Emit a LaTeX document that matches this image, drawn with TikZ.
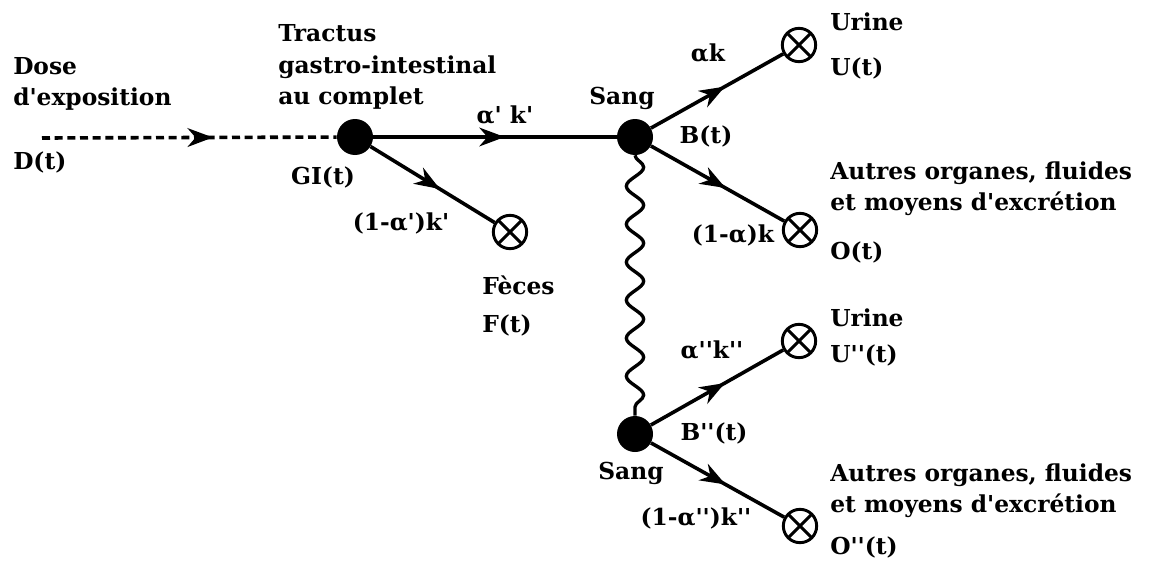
\documentclass[tikz,border=0pt]{standalone}
\usepackage{fontspec}
\setmainfont{DejaVu Serif}[Ligatures=TeXOff]
\usetikzlibrary{arrows.meta,decorations.markings,decorations.pathmorphing}
\tikzset{
  dot/.style={circle,fill=black,inner sep=0pt,minimum size=27pt},
  sink/.style={circle,draw,line width=2.2pt,inner sep=0pt,minimum size=25pt,
    path picture={\draw[line width=2.2pt] (path picture bounding box.north west)--(path picture bounding box.south east)
      (path picture bounding box.north east)--(path picture bounding box.south west);}},
  lbl/.style={font=\bfseries\fontsize{17.5}{23.5}\selectfont,align=left,inner sep=0pt},
  flow/.style={line width=2.7pt,postaction={decorate},
    decoration={markings,mark=at position #1 with {\arrow{Stealth[length=19pt,width=14pt,inset=6pt]}}}},
  flow/.default=0.56,
  dashflow/.style={flow=#1,dash pattern=on 6pt off 3.5pt},
  dashflow/.default=0.58,
  wavy/.style={line width=2.5pt,decorate,decoration={snake,segment length=28.5pt,amplitude=6.5pt}}
}
\begin{document}
\begin{tikzpicture}[x=0.75pt,y=-0.75pt]
  \useasboundingbox (0,0) rectangle (1161,564);
  % compartments and sinks
  \node[dot] (gi) at (355,137) {};
  \node[dot] (sang) at (635,137) {};
  \node[dot] (sangb) at (635,434) {};
  \node[sink] (feces) at (510,232) {};
  \node[sink] (urine) at (799,45) {};
  \node[sink] (autres) at (800,230) {};
  \node[sink] (urineb) at (799,341) {};
  \node[sink] (autresb) at (800,526) {};
  \coordinate (dose) at (42,138);
  % labels
  \node[lbl,anchor=west] (ldose) at (13,84) {Dose\\d'exposition};
  \node[lbl,anchor=west] (ld) at (13,162) {D(t)};
  \node[lbl,anchor=west] (lgi) at (278,67) {Tractus\\gastro-intestinal\\au complet};
  \node[lbl] (lgit) at (323,177) {GI(t)};
  \node[lbl] (lak1) at (505,115) {α' k'};
  \node[lbl] (lak2) at (401,223) {(1-α')k'};
  \node[lbl,anchor=west] (lfeces) at (482,285) {Fèces};
  \node[lbl,anchor=west] (lft) at (482,325) {F(t)};
  \node[lbl] (lsang) at (622,98) {Sang};
  \node[lbl] (lak) at (708,53) {αk};
  \node[lbl] (lbt) at (706,136) {B(t)};
  \node[lbl] (lak3) at (733,235) {(1-α)k};
  \node[lbl,anchor=west] (lurine) at (830,22) {Urine};
  \node[lbl,anchor=west] (lut) at (830,68) {U(t)};
  \node[lbl,anchor=west] (lautres) at (830,189) {Autres organes, fluides\\et moyens d'excrétion};
  \node[lbl,anchor=west] (lot) at (830,252) {O(t)};
  \node[lbl] (lakb) at (712,350) {α''k''};
  \node[lbl] (lbtb) at (714,433) {B''(t)};
  \node[lbl] (lsangb) at (631,473) {Sang};
  \node[lbl] (lakb3) at (696,518) {(1-α'')k''};
  \node[lbl,anchor=west] (lurineb) at (830,318) {Urine};
  \node[lbl,anchor=west] (lutb) at (830,355) {U''(t)};
  \node[lbl,anchor=west] (lautresb) at (830,491) {Autres organes, fluides\\et moyens d'excrétion};
  \node[lbl,anchor=west] (lotb) at (830,547) {O''(t)};
  % transfers
  \draw[dashflow] (dose) -- (gi);
  \draw[flow=0.54] (gi) -- (sang);
  \draw[flow] (gi) -- (feces);
  \draw[flow] (sang) -- (urine);
  \draw[flow] (sang) -- (autres);
  \draw[wavy] (sang) -- (sangb);
  \draw[flow] (sangb) -- (urineb);
  \draw[flow] (sangb) -- (autresb);
\end{tikzpicture}
\end{document}
